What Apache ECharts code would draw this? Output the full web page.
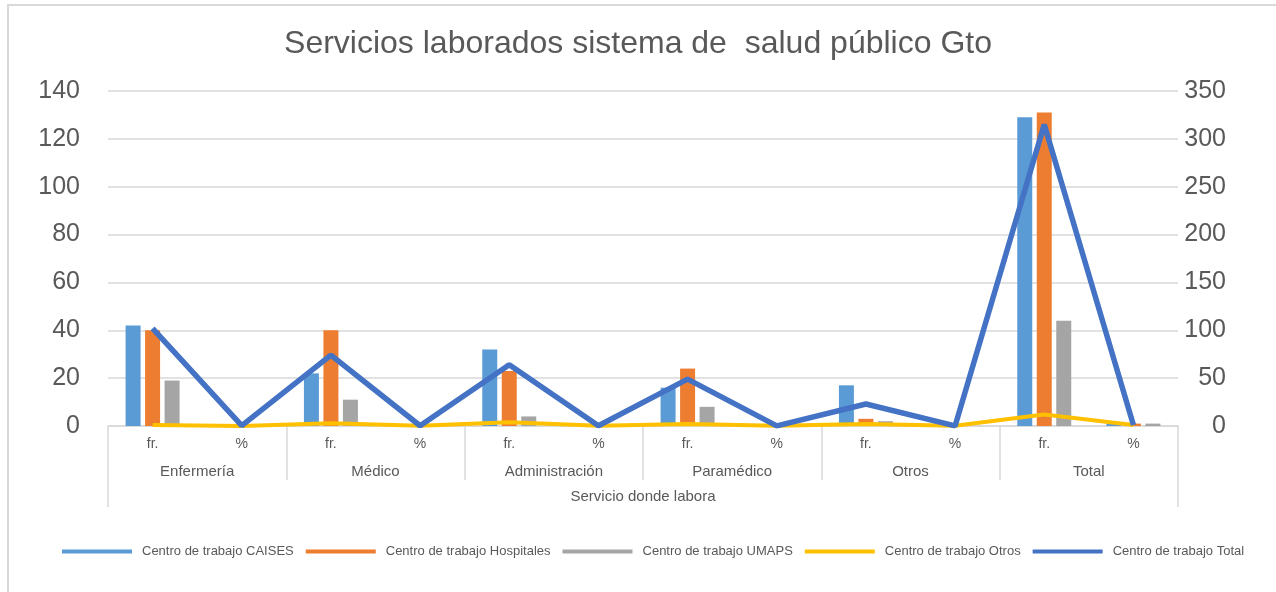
<!DOCTYPE html>
<html>
<head>
<meta charset="utf-8">
<script src="https://cdn.jsdelivr.net/npm/echarts@6/dist/echarts.min.js"></script>
<style>
  html, body { margin: 0; padding: 0; background: #fff; }
  #chart { width: 1276px; height: 592px; }
</style>
</head>
<body>
<div id="chart"></div>
<script>
// categorias (fr. / % por servicio)
const subCats = ["fr.", "%", "fr.", "%", "fr.", "%", "fr.", "%", "fr.", "%", "fr.", "%"];
const groups = ["Enfermería", "Médico", "Administración", "Paramédico", "Otros", "Total"];
const axisTitle = ["Servicio donde labora"];

// valores
const caises = [42, 0.33, 22, 0.17, 32, 0.25, 16, 0.12, 17, 0.13, 129, 1];
const hospitales = [40, 0.31, 40, 0.31, 23, 0.18, 24, 0.18, 3, 0.02, 131, 1];
const umaps = [19, 0.43, 11, 0.25, 4, 0.09, 8, 0.18, 2, 0.05, 44, 1];
const otros = [1, 0.08, 3, 0.25, 4, 0.33, 2, 0.17, 2, 0.17, 12, 1];
const total = [102, 0.32, 74, 0.24, 64, 0.2, 49, 0.16, 23, 0.07, 315, 1];

const leftTicks = [0, 140, 20];   // min, max, interval
const rightTicks = [0, 350, 50];

const textColor = "#595959";
const gridColor = "#D9D9D9";
const font = "Liberation Sans";

const chart = echarts.init(document.getElementById("chart"));

const option = {
  backgroundColor: "#fff",
  animation: false,
  title: {
    text: "Servicios laborados sistema de  salud público Gto",
    left: "center",
    top: 23,
    textStyle: {
      color: textColor,
      fontSize: 32,
      fontWeight: "normal",
      fontFamily: font,
    },
  },
  graphic: [
    {
      type: "rect",
      shape: { x: 8, y: 5, width: 1300, height: 620 },
      style: { fill: "none", stroke: gridColor, lineWidth: 2 },
      silent: true,
    },
  ],
  legend: {
    left: 57,
    top: 540,
    icon: "rect",
    itemWidth: 70,
    itemHeight: 4,
    itemGap: 12,
    textStyle: {
      color: textColor,
      fontSize: 13,
      fontFamily: font,
      padding: [0, 0, 0, 5],
    },
    data: [
      "Centro de trabajo CAISES",
      "Centro de trabajo Hospitales",
      "Centro de trabajo UMAPS",
      "Centro de trabajo Otros",
      "Centro de trabajo Total",
    ],
  },
  grid: {
    left: 108,
    right: 98,
    top: 91,
    bottom: 166,
  },
  xAxis: [
    {
      type: "category",
      data: subCats,
      position: "bottom",
      axisLine: { show: true, lineStyle: { color: gridColor, width: 1.5 } },
      axisTick: { show: false },
      axisLabel: {
        color: textColor,
        fontSize: 14,
        fontFamily: font,
        margin: 11,
        interval: 0,
      },
    },
    {
      type: "category",
      data: groups,
      position: "bottom",
      axisLine: { show: false },
      axisTick: {
        show: true,
        length: 54,
        interval: 0,
        lineStyle: { color: gridColor, width: 1.5 },
      },
      axisLabel: {
        color: textColor,
        fontSize: 15,
        fontFamily: font,
        margin: 38,
        interval: 0,
      },
    },
    {
      type: "category",
      data: axisTitle,
      position: "bottom",
      axisLine: { show: false },
      axisTick: {
        show: true,
        length: 81,
        lineStyle: { color: gridColor, width: 1.5 },
      },
      axisLabel: {
        color: textColor,
        fontSize: 15,
        fontFamily: font,
        margin: 63,
      },
    },
  ],
  yAxis: [
    {
      type: "value",
      min: leftTicks[0],
      max: leftTicks[1],
      interval: leftTicks[2],
      axisLine: { show: false },
      axisTick: { show: false },
      splitLine: { lineStyle: { color: gridColor, width: 1.5 } },
      axisLabel: {
        color: textColor,
        fontSize: 25,
        fontFamily: font,
        margin: 28,
      },
    },
    {
      type: "value",
      position: "right",
      min: rightTicks[0],
      max: rightTicks[1],
      interval: rightTicks[2],
      axisLine: { show: false },
      axisTick: { show: false },
      splitLine: { show: false },
      axisLabel: {
        color: textColor,
        fontSize: 25,
        fontFamily: font,
        margin: 48,
        align: "right",
      },
    },
  ],
  series: [
    {
      name: "Centro de trabajo CAISES",
      type: "bar",
      data: caises,
      barWidth: 15,
      barGap: "30%",
      itemStyle: { color: "#5B9BD5" },
    },
    {
      name: "Centro de trabajo Hospitales",
      type: "bar",
      data: hospitales,
      barWidth: 15,
      barGap: "30%",
      itemStyle: { color: "#ED7D31" },
    },
    {
      name: "Centro de trabajo UMAPS",
      type: "bar",
      data: umaps,
      barWidth: 15,
      barGap: "30%",
      itemStyle: { color: "#A5A5A5" },
    },
    {
      name: "Centro de trabajo Otros",
      type: "line",
      yAxisIndex: 1,
      data: otros,
      showSymbol: false,
      symbol: "none",
      lineStyle: { color: "#FFC000", width: 4 },
      itemStyle: { color: "#FFC000" },
    },
    {
      name: "Centro de trabajo Total",
      type: "line",
      yAxisIndex: 1,
      data: total,
      showSymbol: false,
      symbol: "none",
      lineStyle: { color: "#4472C4", width: 5.5 },
      itemStyle: { color: "#4472C4" },
    },
  ],
};

chart.setOption(option);
</script>
</body>
</html>
